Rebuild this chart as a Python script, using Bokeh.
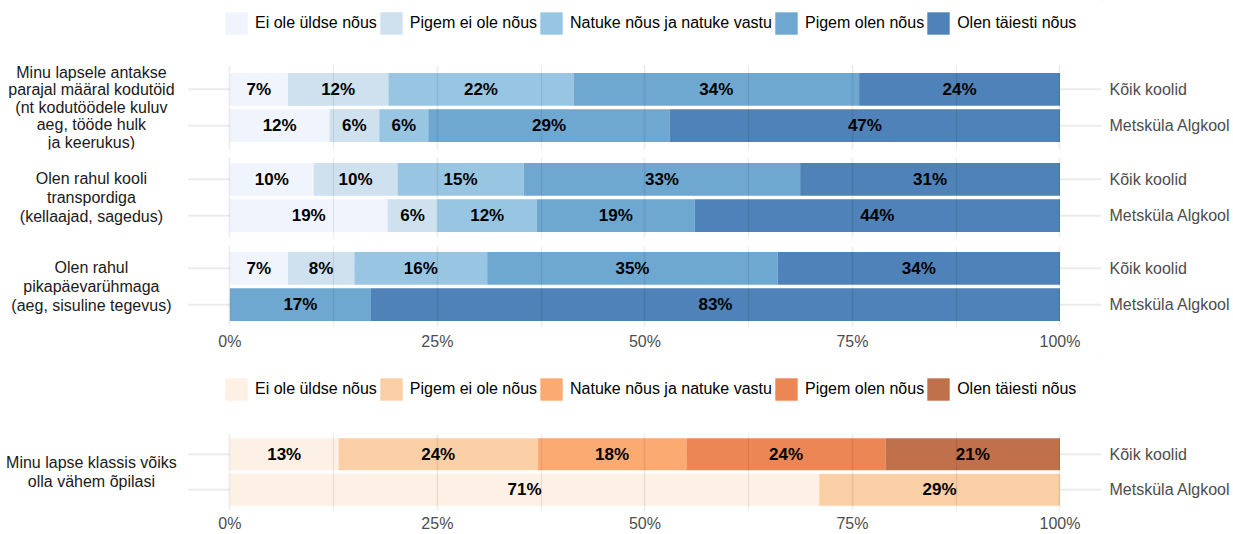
from bokeh.plotting import figure
from bokeh.models import (ColumnDataSource, FactorRange, Range1d, FixedTicker,
                          Legend, LegendItem)
from bokeh.layouts import column
from bokeh.core.properties import value
from bokeh.transform import dodge
from bokeh.embed import file_html
from bokeh.resources import INLINE

# ---------------- data ----------------
schools = ["Kõik koolid", "Metsküla Algkool"]
answers = ["Ei ole üldse nõus", "Pigem ei ole nõus", "Natuke nõus ja natuke vastu",
           "Pigem olen nõus", "Olen täiesti nõus"]

q1 = "Minu lapsele antakse\nparajal määral kodutöid\n(nt kodutöödele kuluv\naeg, tööde hulk\nja keerukus)"
q1_all = [7.0, 12.1, 22.3, 34.4, 24.2]
q1_mets = [12.0, 6.0, 5.9, 29.1, 47.0]

q2 = "Olen rahul kooli\ntranspordiga\n(kellaajad, sagedus)"
q2_all = [10.1, 10.1, 15.2, 33.3, 31.3]
q2_mets = [19.0, 6.0, 12.0, 19.0, 44.0]

q3 = "Olen rahul\npikapäevarühmaga\n(aeg, sisuline tegevus)"
q3_all = [7.0, 8.0, 16.0, 35.0, 34.0]
q3_mets = [0.0, 0.0, 0.0, 17.0, 83.0]

q4 = "Minu lapse klassis võiks\nolla vähem õpilasi"
q4_all = [13.1, 24.0, 17.9, 24.0, 21.0]
q4_mets = [71.0, 29.0, 0.0, 0.0, 0.0]

x_ticks = [0, 25, 50, 75, 100]
x_minor = [12.5, 37.5, 62.5, 87.5]
x_tick_labels = ["0%", "25%", "50%", "75%", "100%"]

blues = ["#F0F4FD", "#CFE1EE", "#98C6E2", "#6EA7D0", "#4F82B8"]
oranges = ["#FDF0E4", "#FBCFA5", "#FBAA72", "#EC8654", "#C0704B"]

# ---------------- layout constants ----------------
W = 1233
RB = 131                 # right border for the school labels
PANEL_L = 188            # pixel where the panel (x = -5) starts
XR = (-5, 105)
FRAME_W = W - RB
PX_PER = (FRAME_W - PANEL_L) / (XR[1] - XR[0])
X_START = XR[0] - PANEL_L / PX_PER
UNIT = 36.4              # pixels per category row
STRIP_CX = 91
FONT = "Liberation Sans"
FS = "16px"


def make_legend(palette, height, y_loc):
    p = figure(width=W, height=height, x_range=Range1d(0, 1), y_range=Range1d(0, 1),
               x_axis_location=None, y_axis_location=None, output_backend="svg",
               toolbar_location=None, min_border_left=0, min_border_right=RB,
               min_border_top=0, min_border_bottom=0, outline_line_color=None)
    p.grid.visible = False
    items = []
    for a, c in zip(answers, palette):
        # kept outside the visible range: only used for the legend swatch
        r = p.hbar(y=[50], left=[50], right=[51], height=1, fill_color=c,
                   line_color=None)
        items.append(LegendItem(label=a, renderers=[r]))
    leg = Legend(items=items, orientation="horizontal", location=(222, y_loc),
                 glyph_width=28, glyph_height=28, label_standoff=5, spacing=0,
                 padding=0, margin=0, border_line_color=None, background_fill_alpha=0,
                 label_text_font=FONT, label_text_font_size=FS,
                 label_text_color="black", label_height=28)
    p.add_layout(leg, "center")
    return p


def make_panel(question, vals_all, vals_mets, palette, height, top, bottom,
               with_axis, standoff=6, line_h=1.1):
    frame_h = height - top - bottom
    pad = (frame_h / UNIT - 2) / 2
    p = figure(width=W, height=height, x_range=Range1d(X_START, XR[1]),
               y_range=FactorRange(factors=schools[::-1], range_padding=pad),
               y_axis_location="right",
               x_axis_location="below" if with_axis else None,
               output_backend="svg", toolbar_location=None,
               min_border_left=0, min_border_right=RB,
               min_border_top=top, min_border_bottom=bottom,
               outline_line_color=None)
    p.ygrid.visible = False

    # horizontal panel grid lines (ggplot style, only inside the panel)
    gsrc = ColumnDataSource(dict(y=schools))
    p.segment(x0=XR[0], x1=XR[1], y0="y", y1="y", source=gsrc,
              line_color="#EBEBEB", line_width=2, level="underlay")

    ys, lefts, rights, colors, mids, labels = [], [], [], [], [], []
    for school, vals in zip(schools, (vals_all, vals_mets)):
        start = 0.0
        for v, c in zip(vals, palette):
            if v > 0:
                ys.append(school)
                lefts.append(start)
                rights.append(start + v)
                colors.append(c)
                mids.append(start + v / 2)
                labels.append(f"{round(v)}%")
            start += v
    src = ColumnDataSource(dict(y=ys, left=lefts, right=rights, color=colors,
                                mid=mids, label=labels))
    p.hbar(y="y", left="left", right="right", height=0.9, fill_color="color",
           line_color=None, source=src)
    p.text(x="mid", y="y", text="label", text_align="center", text_baseline="middle",
           text_font=value(FONT), text_font_style="bold", text_font_size="17px",
           text_color="black", source=src, level="overlay")

    # facet strip label on the left
    ssrc = ColumnDataSource(dict(x=[XR[0] - (PANEL_L - STRIP_CX) / PX_PER],
                                 y=[schools[0]], t=[question]))
    p.text(x="x", y=dodge("y", -0.5, range=p.y_range), text="t", source=ssrc,
           text_align="center", text_baseline="middle", text_font=value(FONT),
           text_font_size=FS, text_color="#1A1A1A", text_line_height=line_h)

    ticker = FixedTicker(ticks=x_ticks, minor_ticks=x_minor)
    p.xgrid.ticker = ticker
    p.xgrid.grid_line_color = "black"
    p.xgrid.grid_line_alpha = 0.08
    p.xgrid.grid_line_width = 1.5
    p.xgrid.minor_grid_line_color = "black"
    p.xgrid.minor_grid_line_alpha = 0.08
    p.xgrid.minor_grid_line_width = 1.2
    p.xgrid.level = "guide"

    if with_axis:
        ax = p.xaxis[0]
        ax.ticker = ticker
        ax.major_label_overrides = {t: lab for t, lab in zip(x_ticks, x_tick_labels)}
        ax.axis_line_color = None
        ax.major_tick_line_color = None
        ax.minor_tick_line_color = None
        ax.major_tick_out = 0
        ax.major_tick_in = 0
        ax.minor_tick_out = 0
        ax.minor_tick_in = 0
        ax.major_label_standoff = standoff
        ax.major_label_text_font = FONT
        ax.major_label_text_font_size = FS
        ax.major_label_text_color = "#4D4D4D"

    ya = p.yaxis[0]
    ya.axis_line_color = None
    ya.major_tick_line_color = None
    ya.minor_tick_line_color = None
    ya.major_tick_out = 0
    ya.major_tick_in = 0
    ya.minor_tick_out = 0
    ya.minor_tick_in = 0
    ya.major_label_standoff = 8
    ya.major_label_text_font = FONT
    ya.major_label_text_font_size = FS
    ya.major_label_text_color = "#4D4D4D"
    return p


leg1 = make_legend(blues, 60, 23)
p1 = make_panel(q1, q1_all, q1_mets, blues, 92, 5, 3, False, line_h=1.03)
p2 = make_panel(q2, q2_all, q2_mets, blues, 89, 5, 4, False)
p3 = make_panel(q3, q3_all, q3_mets, blues, 113, 5, 28, True, 6)
leg2 = make_legend(oranges, 68, 19)
p4 = make_panel(q4, q4_all, q4_mets, oranges, 112, 11, 22, True, 4)

layout = column(leg1, p1, p2, p3, leg2, p4, spacing=0)

open("out.html", "w").write(file_html(layout, INLINE))
